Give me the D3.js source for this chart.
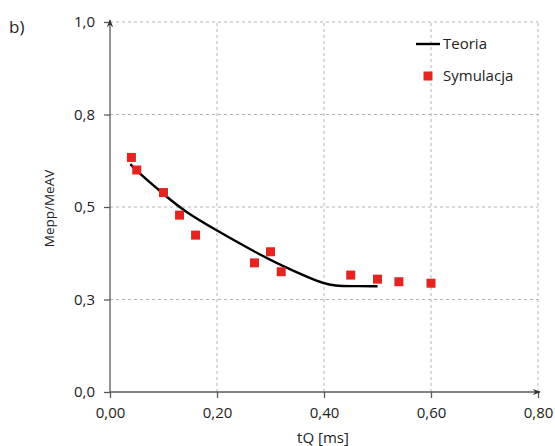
<!DOCTYPE html>
<html>
<head>
<meta charset="utf-8">
<script src="https://cdn.jsdelivr.net/npm/d3@7"></script>
<style>
  html, body { margin: 0; padding: 0; background: #fff; }
  svg { display: block; font-family: "Open Sans", sans-serif; }
</style>
</head>
<body>
<svg id="chart" width="555" height="446"></svg>
<script>
// Theoretical curve (tQ in ms, Mepp/MeAV ratio)
const theoryX = [0.038, 0.06, 0.10, 0.14, 0.20, 0.27, 0.32, 0.37, 0.40, 0.42, 0.45, 0.50];
const theoryY = [0.616, 0.584, 0.535, 0.487, 0.436, 0.379, 0.342, 0.310, 0.293, 0.287, 0.286, 0.286];

// Simulation results
const simX = [0.04, 0.05, 0.10, 0.13, 0.16, 0.27, 0.30, 0.32, 0.45, 0.50, 0.54, 0.60];
const simY = [0.634, 0.600, 0.539, 0.478, 0.424, 0.349, 0.379, 0.325, 0.316, 0.305, 0.298, 0.294];

// Axis ticks and their printed labels
const xTicks = [0, 0.2, 0.4, 0.6, 0.8];
const xTickLabels = ["0,00", "0,20", "0,40", "0,60", "0,80"];
const yTicks = [0, 0.25, 0.5, 0.75, 1.0];
const yTickLabels = ["0,0", "0,3", "0,5", "0,8", "1,0"];

const legendLabels = ["Teoria", "Symulacja"];

const svg = d3.select("#chart");
const margin = { left: 110, right: 17, top: 22, bottom: 54 };
const W = 555, H = 446;

const x = d3.scaleLinear().domain([0, 0.8]).range([margin.left, W - margin.right]);
const y = d3.scaleLinear().domain([0, 1]).range([H - margin.bottom, margin.top]);

const axisColor = "#5a5a5a";
const gridColor = "#b4b4b4";
const red = "#e32420";

// Dashed grid
svg.append("g").selectAll("line").data(yTicks.slice(1)).join("line")
  .attr("x1", x(0)).attr("x2", x(0.8))
  .attr("y1", d => y(d)).attr("y2", d => y(d))
  .attr("stroke", gridColor).attr("stroke-width", 1).attr("stroke-dasharray", "3,3");
svg.append("g").selectAll("line").data(xTicks.slice(1)).join("line")
  .attr("x1", d => x(d)).attr("x2", d => x(d))
  .attr("y1", y(0)).attr("y2", y(1))
  .attr("stroke", gridColor).attr("stroke-width", 1).attr("stroke-dasharray", "3,3");

// Arrow marker for axis ends
svg.append("defs").append("marker")
  .attr("id", "arrow").attr("viewBox", "0 0 10 10")
  .attr("refX", 9).attr("refY", 5)
  .attr("markerWidth", 8).attr("markerHeight", 8)
  .attr("markerUnits", "userSpaceOnUse")
  .attr("orient", "auto")
  .append("path").attr("d", "M0,1 L10,5 L0,9 L3,5 Z").attr("fill", "#333");

// Axes
const xAxis = d3.axisBottom(x).tickValues(xTicks)
  .tickFormat((d, i) => xTickLabels[i]).tickSize(6).tickSizeOuter(0).tickPadding(9);
const yAxis = d3.axisLeft(y).tickValues(yTicks)
  .tickFormat((d, i) => yTickLabels[i]).tickSize(6).tickSizeOuter(0).tickPadding(9);

const gx = svg.append("g").attr("transform", `translate(0,${y(0)})`).call(xAxis);
const gy = svg.append("g").attr("transform", `translate(${x(0)},0)`).call(yAxis);
[gx, gy].forEach(g => {
  g.select(".domain").remove();
  g.selectAll(".tick line").attr("stroke", axisColor).attr("stroke-width", 1.3);
  g.selectAll(".tick text").attr("fill", "#222").style("font-size", "15px")
    .style("font-family", "'Open Sans', sans-serif");
});

svg.append("line")
  .attr("x1", x(0)).attr("x2", x(0.8) + 2)
  .attr("y1", y(0)).attr("y2", y(0))
  .attr("stroke", axisColor).attr("stroke-width", 1.3).attr("marker-end", "url(#arrow)");
svg.append("line")
  .attr("x1", x(0)).attr("x2", x(0))
  .attr("y1", y(0)).attr("y2", y(1) - 2)
  .attr("stroke", axisColor).attr("stroke-width", 1.3).attr("marker-end", "url(#arrow)");

// Axis titles
svg.append("text")
  .attr("x", x(0.4) - 1).attr("y", 443)
  .attr("text-anchor", "middle").attr("fill", "#222")
  .style("font-size", "15px").text("tQ [ms]");
svg.append("text")
  .attr("transform", `translate(54,${(167 + 250) / 2}) rotate(-90)`)
  .attr("text-anchor", "middle").attr("fill", "#222")
  .style("font-size", "13.5px").text("Mepp/MeAV");

// Panel label
svg.append("text").attr("x", 9).attr("y", 33).attr("fill", "#222")
  .style("font-size", "17px").text("b)");

// Theory curve
const theory = theoryX.map((v, i) => [v, theoryY[i]]);
svg.append("path").datum(theory)
  .attr("fill", "none").attr("stroke", "#000").attr("stroke-width", 2.4)
  .attr("d", d3.line().x(d => x(d[0])).y(d => y(d[1])).curve(d3.curveBasis));

// Simulation markers
const sq = 9;
svg.append("g").selectAll("rect").data(simX.map((v, i) => [v, simY[i]])).join("rect")
  .attr("x", d => x(d[0]) - sq / 2).attr("y", d => y(d[1]) - sq / 2)
  .attr("width", sq).attr("height", sq).attr("fill", red);

// Legend
const lg = svg.append("g");
lg.append("line").attr("x1", 416).attr("x2", 440).attr("y1", 44).attr("y2", 44)
  .attr("stroke", "#000").attr("stroke-width", 2.4);
lg.append("text").attr("x", 443).attr("y", 49).attr("fill", "#222")
  .style("font-size", "15px").text(legendLabels[0]);
lg.append("rect").attr("x", 428 - sq / 2).attr("y", 76 - sq / 2)
  .attr("width", sq).attr("height", sq).attr("fill", red);
lg.append("text").attr("x", 443).attr("y", 81).attr("fill", "#222")
  .style("font-size", "15px").text(legendLabels[1]);
</script>
</body>
</html>
